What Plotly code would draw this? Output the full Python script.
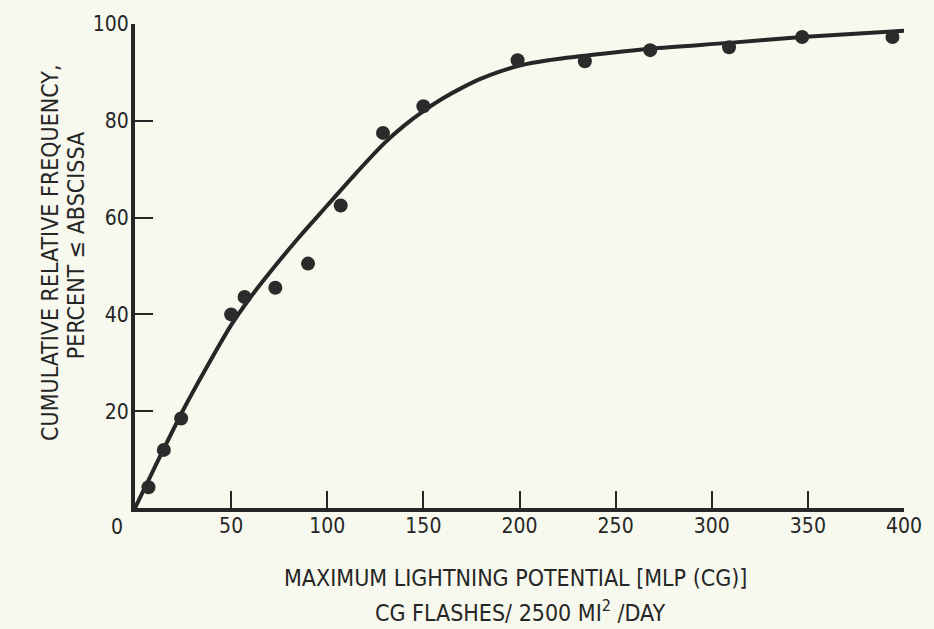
import plotly.graph_objects as go

# Fitted curve
fit_x = [0, 10, 25, 40, 50, 60, 70, 85, 100, 115, 130, 140, 150, 160, 170, 180, 190, 200, 215, 234, 268, 309, 347, 400]
fit_y = [0, 8.2, 20.2, 31, 37.8, 43.5, 48.6, 55.8, 62.5, 69.2, 75.5, 79, 82, 84.6, 86.8, 88.7, 90.2, 91.4, 92.5, 93.45, 94.9, 96.1, 97.3, 98.6]

# Observed points
obs_x = [7, 15, 24, 50, 57, 73, 90, 107, 129, 150, 199, 234, 268, 309, 347, 394]
obs_y = [4.3, 12, 18.5, 40, 43.6, 45.5, 50.5, 62.5, 77.5, 83, 92.5, 92.3, 94.6, 95.2, 97.3, 97.3]

x_ticks = [50, 100, 150, 200, 250, 300, 350, 400]
y_ticks = [20, 40, 60, 80, 100]

BG = "#f8f9ee"
INK = "#262626"
FONT = "DejaVu Sans Condensed, Liberation Sans Narrow, sans-serif"

fig = go.Figure()
fig.add_trace(go.Scatter(x=fit_x, y=fit_y, mode="lines",
                         line=dict(color=INK, width=4, shape="spline", smoothing=0.8),
                         showlegend=False, cliponaxis=False))
fig.add_trace(go.Scatter(x=obs_x, y=obs_y, mode="markers",
                         marker=dict(color="#2b2b2b", size=14),
                         showlegend=False, cliponaxis=False))

fig.update_layout(
    width=934, height=629,
    margin=dict(l=135, r=30, t=22, b=121),
    paper_bgcolor=BG, plot_bgcolor=BG,
    font=dict(family=FONT, color=INK, size=21),
    xaxis=dict(range=[0, 400], tickvals=x_ticks, ticks="inside", ticklen=17, tickwidth=2,
               tickcolor=INK, showline=True, linecolor=INK, linewidth=4, showgrid=False,
               zeroline=False, ticklabelstandoff=-4,
               tickfont=dict(size=21, family=FONT, color=INK)),
    yaxis=dict(range=[0, 100], tickvals=y_ticks, ticks="inside", ticklen=18, tickwidth=2,
               tickcolor=INK, showline=True, linecolor=INK, linewidth=4, showgrid=False,
               zeroline=False, ticklabelstandoff=-2,
               tickfont=dict(size=21, family=FONT, color=INK)),
    annotations=[
        dict(text="0", x=-0.024, y=-0.039, xref="paper", yref="paper", showarrow=False,
             xanchor="center", yanchor="middle", font=dict(size=21, family=FONT, color=INK)),
        dict(text="CUMULATIVE RELATIVE FREQUENCY,", x=-0.1105, y=0.527,
             xref="paper", yref="paper", showarrow=False, textangle=-90,
             xanchor="center", yanchor="middle",
             font=dict(size=23, family=FONT, color=INK)),
        dict(text="PERCENT ≤ ABSCISSA", x=-0.0767, y=0.541,
             xref="paper", yref="paper", showarrow=False, textangle=-90,
             xanchor="center", yanchor="middle",
             font=dict(size=23, family=FONT, color=INK)),
        dict(text="MAXIMUM LIGHTNING POTENTIAL [MLP (CG)]", x=0.495, y=-0.144,
             xref="paper", yref="paper", showarrow=False, xanchor="center", yanchor="middle",
             font=dict(size=23, family=FONT, color=INK)),
        dict(text="CG FLASHES/ 2500 MI<sup>2</sup> /DAY", x=0.50, y=-0.212,
             xref="paper", yref="paper", showarrow=False, xanchor="center", yanchor="middle",
             font=dict(size=23, family=FONT, color=INK)),
    ],
)

fig.write_html(
    "out.html",
    config=dict(displayModeBar=False),
    post_script="document.body.style.margin='0';document.body.style.background='#f8f9ee';"
                "document.body.style.overflow='hidden';",
)
